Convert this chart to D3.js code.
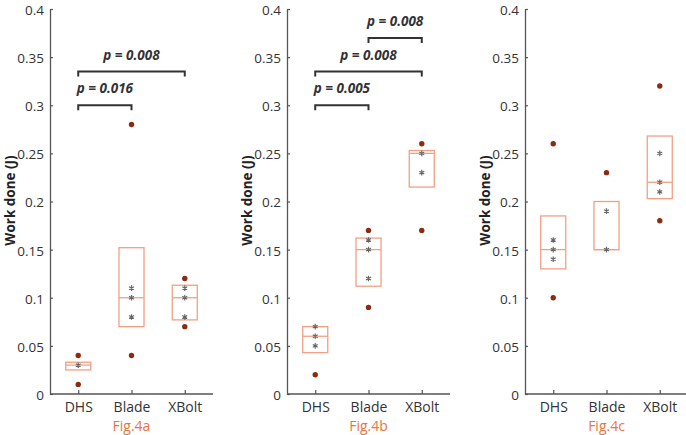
<!DOCTYPE html>
<html>
<head>
<meta charset="utf-8">
<script src="https://cdn.jsdelivr.net/npm/d3@7"></script>
<style>
  html, body { margin: 0; padding: 0; background: #fff; }
  svg { display: block; }
  text { font-family: "Open Sans", "Noto Sans", sans-serif; }
</style>
</head>
<body>
<svg id="chart" width="686" height="435"></svg>
<script>
// ---- data ----
const categories = ["DHS", "Blade", "XBolt"];
const panelLabels = ["Fig.4a", "Fig.4b", "Fig.4c"];
const yTickValues = [0, 0.05, 0.1, 0.15, 0.2, 0.25, 0.3, 0.35, 0.4];
const yTickLabels = ["0", "0.05", "0.1", "0.15", "0.2", "0.25", "0.3", "0.35", "0.4"];
const yTitle = "Work done (J)";

// Fig.4a
const boxLowA = [0.025, 0.070, 0.077];
const boxHighA = [0.033, 0.152, 0.113];
const medianA = [0.03, 0.10, 0.10];
const extremeA = [[0.04, 0.01], [0.28, 0.04], [0.12, 0.07]];
const innerA = [[0.03], [0.11, 0.10, 0.08], [0.11, 0.10, 0.08]];
const bracketsA = [
  { from: "DHS", to: "Blade", level: 0.30, p: "0.016" },
  { from: "DHS", to: "XBolt", level: 0.335, p: "0.008" }
];

// Fig.4b
const boxLowB = [0.043, 0.112, 0.215];
const boxHighB = [0.070, 0.162, 0.253];
const medianB = [0.06, 0.15, 0.25];
const extremeB = [[0.02], [0.17, 0.09], [0.26, 0.17]];
const innerB = [[0.07, 0.06, 0.05], [0.16, 0.15, 0.12], [0.25, 0.23]];
const bracketsB = [
  { from: "DHS", to: "Blade", level: 0.30, p: "0.005" },
  { from: "DHS", to: "XBolt", level: 0.335, p: "0.008" },
  { from: "Blade", to: "XBolt", level: 0.37, p: "0.008" }
];

// Fig.4c
const boxLowC = [0.13, 0.15, 0.203];
const boxHighC = [0.185, 0.20, 0.268];
const medianC = [0.15, 0.15, 0.22];
const extremeC = [[0.26, 0.10], [0.23], [0.32, 0.18]];
const innerC = [[0.16, 0.15, 0.14], [0.19, 0.15], [0.25, 0.22, 0.21]];
const bracketsC = [];

const panels = [
  { label: panelLabels[0], low: boxLowA, high: boxHighA, med: medianA, ext: extremeA, inn: innerA, br: bracketsA },
  { label: panelLabels[1], low: boxLowB, high: boxHighB, med: medianB, ext: extremeB, inn: innerB, br: bracketsB },
  { label: panelLabels[2], low: boxLowC, high: boxHighC, med: medianC, ext: extremeC, inn: innerC, br: bracketsC }
];

// ---- layout ----
const svg = d3.select("#chart");
const axisLefts = [50, 287, 525];
const plotW = 163;
const plotTop = 9, plotBottom = 394;

const axisColor = "#555";
const textColor = "#333";
const boxColor = "#f2a083";
const figColor = "#e8743f";
const dotColor = "#8a2b12";
const starColor = "#666";

const y = d3.scaleLinear().domain([0, 0.4]).range([plotBottom, plotTop]);

panels.forEach((p, i) => {
  const x0 = axisLefts[i];
  const x = d3.scalePoint().domain(categories).range([x0, x0 + plotW]).padding(0.53);
  const g = svg.append("g");

  // y axis
  const yAxis = d3.axisLeft(y).tickValues(yTickValues)
    .tickFormat((d, k) => yTickLabels[k]).tickSizeInner(-3).tickSizeOuter(0).tickPadding(6);
  const ga = g.append("g").attr("transform", `translate(${x0},0)`).call(yAxis);
  ga.select(".domain").attr("stroke", axisColor).attr("stroke-width", 1.3);
  ga.selectAll(".tick line").attr("stroke", axisColor).attr("stroke-width", 1.2);
  ga.selectAll(".tick text").attr("fill", textColor).attr("dy", "0.4em").style("font-size", "13.5px")
    .style("font-family", "'Open Sans', sans-serif");

  // x axis
  const xAxis = d3.axisBottom(x).tickSizeInner(-4).tickSizeOuter(0).tickPadding(8);
  const gx = g.append("g").attr("transform", `translate(0,${plotBottom})`).call(xAxis);
  gx.select(".domain").attr("stroke", axisColor).attr("stroke-width", 1.3)
    .attr("d", `M${x0},0H${x0 + plotW}`);
  gx.selectAll(".tick line").attr("stroke", axisColor).attr("stroke-width", 1.2);
  gx.selectAll(".tick text").attr("fill", textColor).style("font-size", "14px")
    .style("font-family", "'Open Sans', sans-serif");

  // y title
  g.append("text")
    .attr("transform", `translate(${x0 - 35},${y(0.2) - 1}) rotate(-90)`)
    .attr("text-anchor", "middle")
    .attr("fill", "#222")
    .style("font-size", "13.5px").style("font-weight", "bold")
    .text(yTitle);

  // fig label
  g.append("text")
    .attr("x", x("Blade")).attr("y", 431)
    .attr("text-anchor", "middle").attr("fill", figColor)
    .style("font-size", "14px")
    .text(p.label);

  const bw = x.step() * 0.47;

  categories.forEach((c, k) => {
    const cx = x(c);
    // box
    g.append("rect")
      .attr("x", cx - bw / 2).attr("y", y(p.high[k]))
      .attr("width", bw).attr("height", y(p.low[k]) - y(p.high[k]))
      .attr("fill", "none").attr("stroke", boxColor).attr("stroke-width", 1.3);
    g.append("line")
      .attr("x1", cx - bw / 2).attr("x2", cx + bw / 2)
      .attr("y1", y(p.med[k])).attr("y2", y(p.med[k]))
      .attr("stroke", boxColor).attr("stroke-width", 1.3);

    // inner points (asterisks)
    g.selectAll(null).data(p.inn[k]).enter().append("path")
      .attr("transform", d => `translate(${cx},${y(d)})`)
      .attr("d", d3.symbol(d3.symbolAsterisk, 22)())
      .attr("fill", "none").attr("stroke", starColor).attr("stroke-width", 1.2);

    // extreme points (dark dots)
    g.selectAll(null).data(p.ext[k]).enter().append("circle")
      .attr("cx", cx).attr("cy", d => y(d)).attr("r", 2.7)
      .attr("fill", dotColor);
  });

  // significance brackets
  p.br.forEach(b => {
    const xa = x(b.from), xb = x(b.to), yy = y(b.level);
    g.append("path")
      .attr("d", `M${xa},${yy + 5}V${yy}H${xb}V${yy + 5}`)
      .attr("fill", "none").attr("stroke", "#333").attr("stroke-width", 2);
    g.append("text")
      .attr("x", (xa + xb) / 2).attr("y", yy - 12)
      .attr("text-anchor", "middle").attr("fill", "#333")
      .style("font-size", "13.5px").style("font-weight", "bold").style("font-style", "italic")
      .text("p = " + b.p);
  });
});
</script>
</body>
</html>
